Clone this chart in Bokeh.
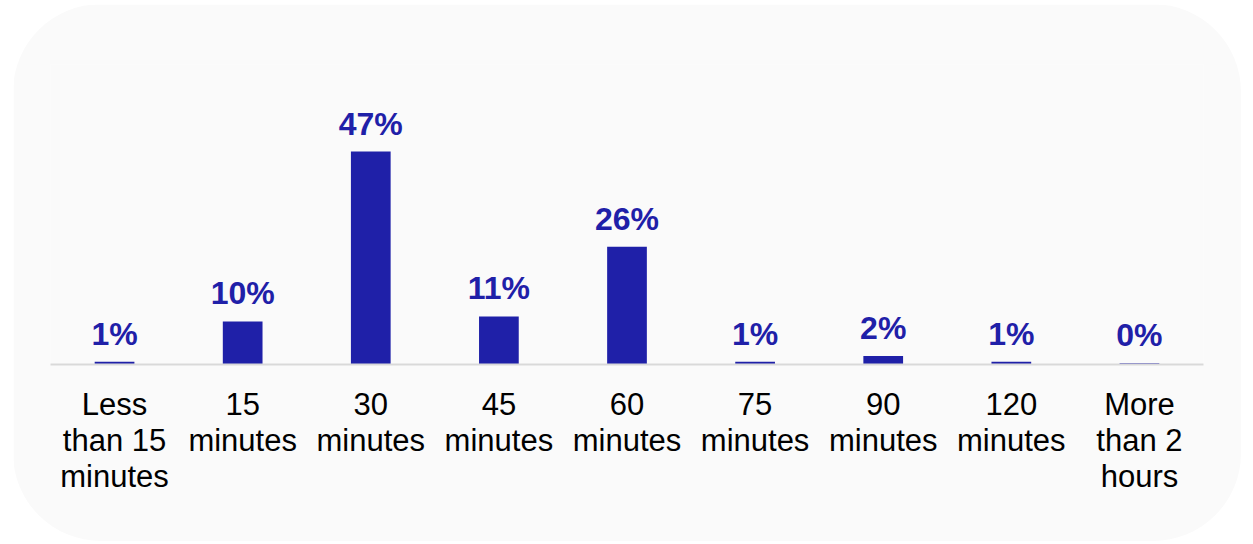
from bokeh.plotting import figure
from bokeh.models import ColumnDataSource, FactorRange, Range1d
from bokeh.core.properties import value
from bokeh.embed import file_html
from bokeh.resources import INLINE

categories = ["Less\nthan 15\nminutes", "15\nminutes", "30\nminutes", "45\nminutes",
              "60\nminutes", "75\nminutes", "90\nminutes", "120\nminutes", "More\nthan 2\nhours"]
values = [0.6, 9.5, 47, 10.6, 26, 0.6, 1.9, 0.6, 0.25]
labels = ["1%", "10%", "47%", "11%", "26%", "1%", "2%", "1%", "0%"]

BLUE = "#1f20a8"
FONT = "Liberation Sans"

src = ColumnDataSource(dict(cat=categories, val=values, lab=labels))

p = figure(width=1228, height=537, x_range=FactorRange(factors=categories, range_padding=0),
           y_range=Range1d(0, 66.2), output_backend="svg", toolbar_location=None,
           y_axis_location=None, min_border_left=37, min_border_right=38,
           min_border_top=60, min_border_bottom=177,
           margin=(4, 12, 3, 13),
           styles={"border-radius": "88px", "overflow": "hidden"})
p.border_fill_color = "#fafafa"
p.background_fill_color = "#fafafa"
p.outline_line_color = None
p.xgrid.visible = False
p.ygrid.visible = False

p.vbar(x="cat", top="val", width=0.31, source=src, fill_color=BLUE, line_color=BLUE, line_width=0)
p.text(x="cat", y="val", text="lab", source=src, y_offset=-28,
       text_align="center", text_baseline="alphabetic",
       text_font=value(FONT), text_font_style="bold", text_font_size="32px", text_color=BLUE)

ax = p.xaxis[0]
ax.axis_line_color = "#d9d9d9"
ax.axis_line_width = 2
ax.major_tick_line_color = None
ax.minor_tick_line_color = None
ax.major_tick_in = 0
ax.major_tick_out = 0
ax.major_label_standoff = 22
ax.major_label_text_font = FONT
ax.major_label_text_font_size = "31px"
ax.major_label_text_color = "black"
ax.major_label_text_line_height = 1.03

open("out.html", "w").write(file_html(p, INLINE))
